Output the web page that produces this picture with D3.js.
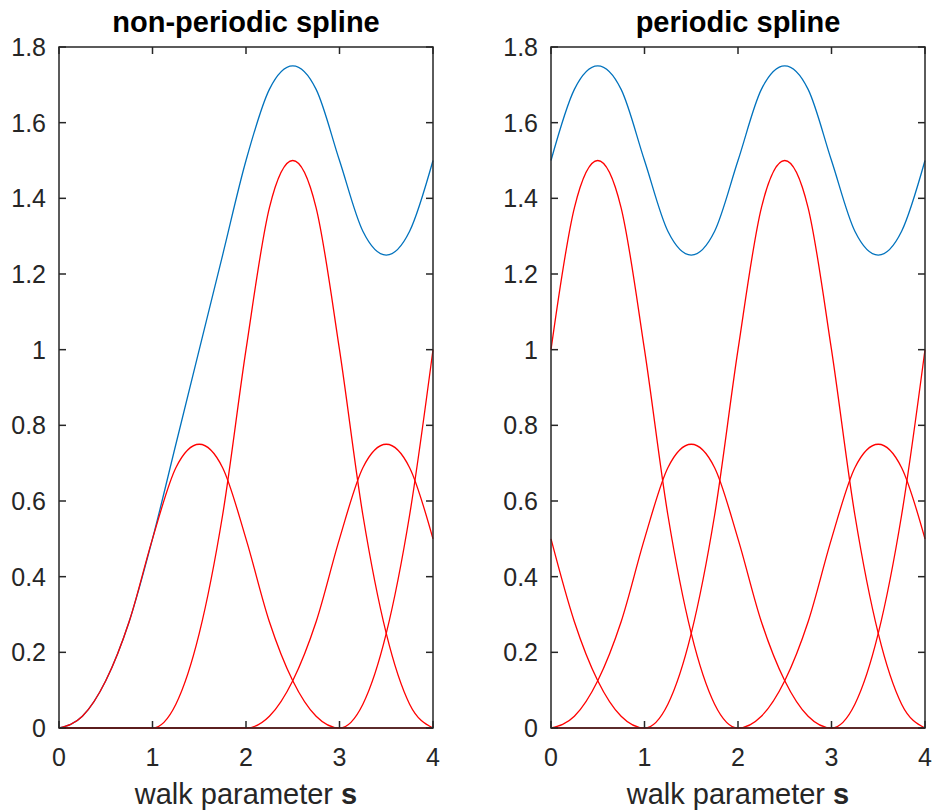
<!DOCTYPE html>
<html>
<head>
<meta charset="utf-8">
<script src="https://cdn.jsdelivr.net/npm/d3@7"></script>
<style>
  body { margin: 0; background: #fff; }
  text { font-family: "Liberation Sans", Arial, sans-serif; fill: #262626; }
  .line { fill: none; stroke-width: 1.3; }
</style>
</head>
<body>
<svg id="chart" width="932" height="811"></svg>
<script>
// walk parameter samples
const sValues = [0, 0.25, 0.5, 0.75, 1, 1.25, 1.5, 1.75, 2, 2.25, 2.5, 2.75, 3, 3.25, 3.5, 3.75, 4];

// non-periodic spline
const npBlue = [0, 0.031, 0.125, 0.281, 0.5, 0.75, 1.0, 1.25, 1.5, 1.688, 1.75, 1.688, 1.5, 1.313, 1.25, 1.313, 1.5];
const npRed1 = [0, 0.031, 0.125, 0.281, 0.5, 0.688, 0.75, 0.688, 0.5, 0.281, 0.125, 0.031, 0, 0, 0, 0, 0];
const npRed2 = [0, 0, 0, 0, 0, 0.063, 0.25, 0.563, 1.0, 1.375, 1.5, 1.375, 1.0, 0.563, 0.25, 0.063, 0];
const npRed3 = [0, 0, 0, 0, 0, 0, 0, 0, 0, 0.031, 0.125, 0.281, 0.5, 0.688, 0.75, 0.688, 0.5];
const npRed4 = [0, 0, 0, 0, 0, 0, 0, 0, 0, 0, 0, 0, 0, 0.063, 0.25, 0.563, 1.0];

// periodic spline
const pBlue = [1.5, 1.688, 1.75, 1.688, 1.5, 1.313, 1.25, 1.313, 1.5, 1.688, 1.75, 1.688, 1.5, 1.313, 1.25, 1.313, 1.5];
const pRed1 = [1.0, 1.375, 1.5, 1.375, 1.0, 0.563, 0.25, 0.063, 0, 0, 0, 0, 0, 0.063, 0.25, 0.563, 1.0];
const pRed2 = [0, 0.031, 0.125, 0.281, 0.5, 0.688, 0.75, 0.688, 0.5, 0.281, 0.125, 0.031, 0, 0, 0, 0, 0];
const pRed3 = [0, 0, 0, 0, 0, 0.063, 0.25, 0.563, 1.0, 1.375, 1.5, 1.375, 1.0, 0.563, 0.25, 0.063, 0];
const pRed4 = [0.5, 0.281, 0.125, 0.031, 0, 0, 0, 0, 0, 0.031, 0.125, 0.281, 0.5, 0.688, 0.75, 0.688, 0.5];

const xTicks = [0, 1, 2, 3, 4];
const yTicks = [0, 0.2, 0.4, 0.6, 0.8, 1, 1.2, 1.4, 1.6, 1.8];

const panels = [
  { title: "non-periodic spline", left: 59, blue: npBlue, reds: [npRed1, npRed2, npRed3, npRed4] },
  { title: "periodic spline", left: 551, blue: pBlue, reds: [pRed1, pRed2, pRed3, pRed4] }
];

const svg = d3.select("#chart");
const plotTop = 47, plotH = 681, plotW = 374;
const axisColor = "#262626";
const tickLen = 7;

panels.forEach(p => {
  const g = svg.append("g").attr("transform", `translate(${p.left},${plotTop})`);

  const x = d3.scaleLinear().domain([0, 4]).range([0, plotW]);
  const y = d3.scaleLinear().domain([0, 1.8]).range([plotH, 0]);

  const line = d3.line()
    .x((d, i) => x(sValues[i]))
    .y(d => y(d))
    .curve(d3.curveMonotoneX);

  // blue sum (drawn first, reds sit on top)
  g.append("path")
    .datum(p.blue)
    .attr("class", "line")
    .attr("stroke", "#0072bd")
    .attr("d", line);

  // red basis curves
  p.reds.forEach(r => {
    g.append("path")
      .datum(r)
      .attr("class", "line")
      .attr("stroke", "#ff0000")
      .attr("d", line);
  });

  // box
  g.append("rect")
    .attr("x", 0).attr("y", 0)
    .attr("width", plotW).attr("height", plotH)
    .attr("fill", "none")
    .attr("stroke", axisColor)
    .attr("stroke-width", 1.5);

  // inward ticks on all sides
  xTicks.forEach(t => {
    g.append("line").attr("x1", x(t)).attr("x2", x(t)).attr("y1", plotH).attr("y2", plotH - tickLen)
      .attr("stroke", axisColor).attr("stroke-width", 1.5);
    g.append("line").attr("x1", x(t)).attr("x2", x(t)).attr("y1", 0).attr("y2", tickLen)
      .attr("stroke", axisColor).attr("stroke-width", 1.5);
    g.append("text")
      .attr("x", x(t)).attr("y", plotH + 38)
      .attr("text-anchor", "middle")
      .attr("font-size", 25)
      .text(d3.format("~g")(t));
  });
  yTicks.forEach(t => {
    g.append("line").attr("x1", 0).attr("x2", tickLen).attr("y1", y(t)).attr("y2", y(t))
      .attr("stroke", axisColor).attr("stroke-width", 1.5);
    g.append("line").attr("x1", plotW).attr("x2", plotW - tickLen).attr("y1", y(t)).attr("y2", y(t))
      .attr("stroke", axisColor).attr("stroke-width", 1.5);
    g.append("text")
      .attr("x", -13).attr("y", y(t))
      .attr("dy", "0.36em")
      .attr("text-anchor", "end")
      .attr("font-size", 25)
      .text(d3.format("~g")(t));
  });

  // title
  g.append("text")
    .attr("x", plotW / 2).attr("y", -15)
    .attr("text-anchor", "middle")
    .attr("font-size", 29)
    .attr("font-weight", "bold")
    .style("fill", "#000")
    .text(p.title);

  // x label
  const xl = g.append("text")
    .attr("x", plotW / 2).attr("y", plotH + 76)
    .attr("text-anchor", "middle")
    .attr("font-size", 29);
  xl.append("tspan").text("walk parameter ");
  xl.append("tspan").attr("font-weight", "bold").text("s");
});
</script>
</body>
</html>
